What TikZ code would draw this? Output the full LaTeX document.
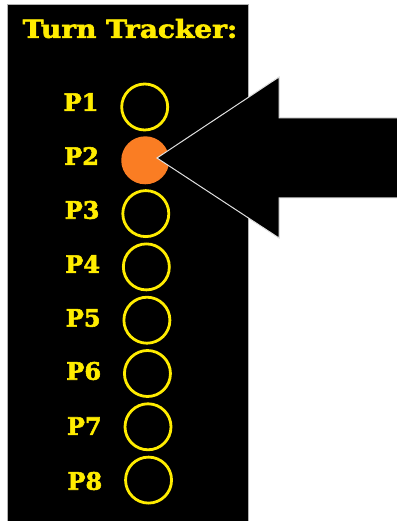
\documentclass[tikz,border=0pt]{standalone}
\usepackage{fontspec}
\setmainfont{DejaVu Serif}
\newfontfamily\heavyfont{DejaVu Serif Bold}[FakeBold=2.2]
\definecolor{tyellow}{RGB}{255,236,0}
\definecolor{torange}{RGB}{250,125,35}
\begin{document}
\begin{tikzpicture}[x=1pt,y=-1pt,
  panel/.style={fill=black,draw=gray!60,line width=0.8pt},
  ring/.style={circle,draw=tyellow,line width=2.8pt,minimum size=46pt,inner sep=0pt},
  active/.style={circle,fill=torange,minimum size=48pt,inner sep=0pt},
  plabel/.style={text=tyellow,font=\heavyfont\fontsize{24}{24}\selectfont,inner sep=0pt,anchor=center},
  title/.style={text=tyellow,font=\heavyfont\fontsize{25}{25}\selectfont,inner sep=0pt,xscale=1.12},
  bigarrow/.style={fill=black,draw=white!88!black,line width=1pt,line join=miter}]
\useasboundingbox (0,0) rectangle (396,521);
\fill[white] (0,0) rectangle (396,521);
\draw[panel] (7,525) -- (7,4) -- (248,4) -- (248,525);
\node[title] (t) at (130,28.5) {Turn Tracker:};
% labels and rings
\foreach \i/\ly in {1/102,2/156,3/210,4/264,5/318,6/371,7/426,8/481}{
  \pgfmathsetmacro{\cy}{107+(\i-1)*53.3}
  \pgfmathsetmacro{\cx}{144.7+(\i-1)*0.55}
  \pgfmathsetmacro{\lx}{81+(\i-1)*0.55}
  \node[plabel] (l\i) at (\lx,\ly) {P\i};
  \ifnum\i=2
    \node[active] (c\i) at (\cx,\cy) {};
  \else
    \node[ring] (c\i) at (\cx,\cy) {};
  \fi
}
% arrow
\coordinate (tip) at (157,158);
\coordinate (ht) at (279,77);
\coordinate (hb) at (279,238);
\draw[bigarrow] (tip) -- (ht) -- (279,118) -- (398,118) -- (398,198) -- (279,198) -- (hb) -- cycle;
\end{tikzpicture}
\end{document}
